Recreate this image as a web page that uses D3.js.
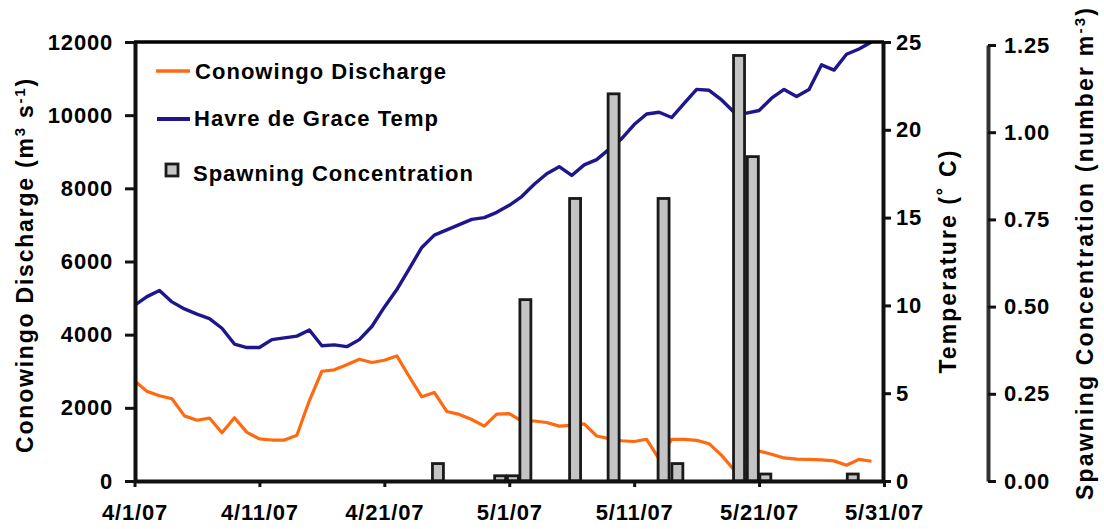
<!DOCTYPE html>
<html>
<head>
<meta charset="utf-8">
<script src="https://cdn.jsdelivr.net/npm/d3@7"></script>
<style>
  html, body { margin: 0; padding: 0; background: #fff; }
  svg { display: block; }
  text { font-family: "Liberation Sans", Arial, Helvetica, sans-serif; font-weight: bold; fill: #000; }
</style>
</head>
<body>
<svg id="chart" width="1104" height="529"></svg>
<script>
// ---------------- DATA ----------------
const startDate = "2007-04-01";
// Conowingo discharge (m3 s-1), daily from 4/1/07
const discharge = [2740, 2450, 2330, 2250, 1780, 1660, 1720, 1320, 1730, 1330,
                   1150, 1120, 1120, 1250, 2200, 3000, 3040, 3180, 3330, 3240,
                   3300, 3420, 2850, 2300, 2420, 1900, 1820, 1680, 1500, 1830,
                   1840, 1640, 1640, 1600, 1500, 1520, 1560, 1230, 1160, 1100,
                   1080, 1140, 600, 1140, 1140, 1110, 1020, 700, 300, 700,
                   820, 730, 630, 600, 590, 580, 550, 430, 590, 540];
// Havre de Grace water temperature (deg C), daily from 4/1/07
const temperature = [10.0, 10.5, 10.85, 10.2, 9.8, 9.5, 9.25, 8.7, 7.8, 7.6,
                     7.6, 8.05, 8.15, 8.25, 8.6, 7.7, 7.75, 7.65, 8.05, 8.8,
                     9.9, 10.9, 12.1, 13.3, 14.0, 14.3, 14.6, 14.9, 15.0, 15.3,
                     15.7, 16.2, 16.9, 17.5, 17.9, 17.4, 18.0, 18.3, 18.9, 19.5,
                     20.3, 20.9, 21.0, 20.7, 21.5, 22.3, 22.25, 21.7, 21.0, 20.95,
                     21.1, 21.8, 22.3, 21.9, 22.3, 23.7, 23.4, 24.3, 24.6, 25.0];
// Spawning concentration (number m-3), sampling times
const spawnTimes = ["2007-04-25T07:00", "2007-04-30T06:30", "2007-05-01T07:00", "2007-05-02T07:00",
                    "2007-05-06T06:30", "2007-05-09T08:30", "2007-05-13T08:30", "2007-05-14T11:00",
                    "2007-05-19T09:30", "2007-05-20T12:00", "2007-05-21T12:00", "2007-05-28T12:00"];
const spawnValues = [0.05, 0.015, 0.015, 0.52, 0.81, 1.11, 0.81, 0.05, 1.22, 0.93, 0.02, 0.02];

const xTickLabels = ["4/1/07", "4/11/07", "4/21/07", "5/1/07", "5/11/07", "5/21/07", "5/31/07"];
const dischargeTicks = [0, 2000, 4000, 6000, 8000, 10000, 12000];
const tempTicks = [0, 5, 10, 15, 20, 25];
const spawnTicks = [0, 0.25, 0.5, 0.75, 1.0, 1.25];

// ---------------- CHART ----------------
const svg = d3.select("#chart");
const parseTick = d3.timeParse("%m/%d/%y");
const parseDay = d3.timeParse("%Y-%m-%d");
const parseTime = d3.timeParse("%Y-%m-%dT%H:%M");
const d0 = parseDay(startDate);

const x = d3.scaleTime()
  .domain([parseTick(xTickLabels[0]), parseTick(xTickLabels[xTickLabels.length - 1])])
  .range([134.5, 884]);
const yQ = d3.scaleLinear().domain([0, 12000]).range([481, 42]);
const yT = d3.scaleLinear().domain([0, 25]).range([481, 42]);
const yS = d3.scaleLinear().domain([0, 1.25]).range([481, 45]);

const qData = discharge.map((v, i) => ({ d: d3.timeDay.offset(d0, i), v }));
const tData = temperature.map((v, i) => ({ d: d3.timeDay.offset(d0, i), v }));
const sData = spawnTimes.map((t, i) => ({ d: parseTime(t), v: spawnValues[i] }));

const orange = "#FF6A10";
const navy = "#1E168C";
const tickFont = 22;

// stretch a text element (letter-spacing) so that its length equals target
function fitText(sel, target) {
  const node = sel.node();
  const natural = node.getComputedTextLength();
  const n = node.textContent.length;
  if (n > 1) sel.style("letter-spacing", ((target - natural) / (n - 1)) + "px");
  return sel;
}

// Lines
svg.append("path").datum(qData)
  .attr("fill", "none").attr("stroke", orange).attr("stroke-width", 3.2)
  .attr("stroke-linejoin", "round")
  .attr("d", d3.line().x(d => x(d.d)).y(d => yQ(d.v)));
svg.append("path").datum(tData)
  .attr("fill", "none").attr("stroke", navy).attr("stroke-width", 3.4)
  .attr("stroke-linejoin", "round")
  .attr("d", d3.line().x(d => x(d.d)).y(d => yT(d.v)));

// Bars (about one day wide, centred on sampling time)
const halfWidthMs = 0.44 * 24 * 3600 * 1000;
svg.append("g").selectAll("rect").data(sData).join("rect")
  .attr("x", d => x(new Date(d.d.getTime() - halfWidthMs)))
  .attr("width", d => x(new Date(d.d.getTime() + halfWidthMs)) - x(new Date(d.d.getTime() - halfWidthMs)))
  .attr("y", d => yS(d.v))
  .attr("height", d => yS(0) - yS(d.v))
  .attr("fill", "#C4C4C4")
  .attr("stroke", "#1a1a1a")
  .attr("stroke-width", 2.8);

// Top frame line
svg.append("line").attr("x1", 134).attr("x2", 884).attr("y1", 42).attr("y2", 42)
  .attr("stroke", "#000").attr("stroke-width", 3.5);

function styleAxis(g, w) {
  g.select(".domain").attr("stroke", "#111").attr("stroke-width", w);
  g.selectAll(".tick line").attr("stroke", "#111").attr("stroke-width", 3);
  g.selectAll(".tick text").style("font-size", tickFont + "px").style("font-weight", "bold")
    .style("letter-spacing", "0.8px")
    .style("font-family", '"Liberation Sans", Arial, sans-serif').attr("fill", "#000");
}

// Left axis
const gL = svg.append("g").attr("transform", "translate(135,0)")
  .call(d3.axisLeft(yQ).tickValues(dischargeTicks).tickSize(10).tickSizeOuter(0).tickPadding(12).tickFormat(d3.format("d")));
styleAxis(gL, 4);

// Bottom axis
const gB = svg.append("g").attr("transform", "translate(0,481)")
  .call(d3.axisBottom(x).tickValues(xTickLabels.map(parseTick)).tickSize(6).tickSizeOuter(0).tickPadding(17)
    .tickFormat((d, i) => xTickLabels[i]));
styleAxis(gB, 4);

// Right temperature axis
const gT = svg.append("g").attr("transform", "translate(883,0)")
  .call(d3.axisRight(yT).tickValues(tempTicks).tickSize(8).tickSizeOuter(0).tickPadding(5));
styleAxis(gT, 4);

// Spawning axis
const gS = svg.append("g").attr("transform", "translate(988,0)")
  .call(d3.axisRight(yS).tickValues(spawnTicks).tickSize(8).tickSizeOuter(0).tickPadding(8).tickFormat(d3.format(".2f")));
styleAxis(gS, 4);
gS.select(".domain").attr("stroke", "#333");

// Axis titles
const t1 = svg.append("text").attr("transform", "translate(33,265) rotate(-90)")
  .attr("text-anchor", "middle").style("font-size", "23px");
t1.append("tspan").text("Conowingo Discharge (m");
t1.append("tspan").attr("dy", -8).style("font-size", "15px").text("3");
t1.append("tspan").attr("dy", 8).text(" s");
t1.append("tspan").attr("dy", -8).style("font-size", "15px").text("-1");
t1.append("tspan").attr("dy", 8).text(")");
fitText(t1, 374);

const t2 = svg.append("text").attr("transform", "translate(956,261) rotate(-90)")
  .attr("text-anchor", "middle").style("font-size", "23px").text("Temperature (˚ C)");
fitText(t2, 223);

const t3 = svg.append("text").attr("transform", "translate(1093,253) rotate(-90)")
  .attr("text-anchor", "middle").style("font-size", "23px");
t3.append("tspan").text("Spawning Concentration (number m");
t3.append("tspan").attr("dy", -8).style("font-size", "15px").text("-3");
t3.append("tspan").attr("dy", 8).text(")");
fitText(t3, 492);

// Legend
const lg = svg.append("g");
lg.append("line").attr("x1", 156).attr("x2", 190).attr("y1", 71).attr("y2", 71)
  .attr("stroke", orange).attr("stroke-width", 3.5);
fitText(lg.append("text").attr("x", 195).attr("y", 79).style("font-size", "22px").text("Conowingo Discharge"), 251);
lg.append("line").attr("x1", 157).attr("x2", 190).attr("y1", 119).attr("y2", 119)
  .attr("stroke", navy).attr("stroke-width", 4);
fitText(lg.append("text").attr("x", 194).attr("y", 126).style("font-size", "22px").text("Havre de Grace Temp"), 244);
lg.append("rect").attr("x", 166).attr("y", 164).attr("width", 12).attr("height", 12)
  .attr("fill", "#C4C4C4").attr("stroke", "#1a1a1a").attr("stroke-width", 2.8);
fitText(lg.append("text").attr("x", 193).attr("y", 181).style("font-size", "22px").text("Spawning Concentration"), 280);
</script>
</body>
</html>
